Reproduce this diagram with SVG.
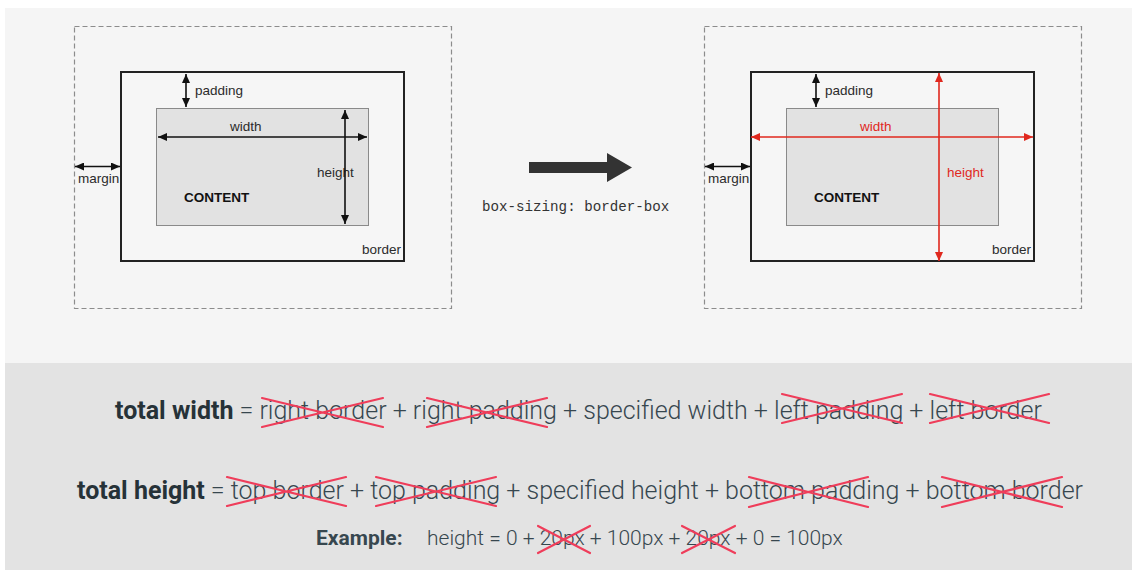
<svg xmlns="http://www.w3.org/2000/svg" width="1132" height="571" viewBox="0 0 1132 571">
  <style>
    .lbl { font-family: "Liberation Sans", Arial, sans-serif; font-size: 13.5px; fill: #2b2b2b; }
    .lbl-red { fill: #e0281e; }
    .content { font-family: "Liberation Sans", Arial, sans-serif; font-size: 13.5px; font-weight: bold; fill: #111; }
    .margin-box { fill: none; stroke: #8c8c8c; stroke-width: 1.2; stroke-dasharray: 5 3; }
    .border-box { fill: #f6f6f6; stroke: #222; stroke-width: 2; }
    .content-box { fill: #e2e2e2; stroke: #8a8a8a; stroke-width: 1; }
    .dim { stroke: #111; stroke-width: 1.6; fill: none; }
    .dim-red { stroke: #e0281e; stroke-width: 1.6; fill: none; }
    .code { font-family: "Liberation Mono", "DejaVu Sans Mono", monospace; font-size: 14.2px; fill: #333; }
    .formula { font-family: Roboto, "Noto Sans", sans-serif; font-size: 25px; font-weight: 300; fill: #37474f; }
    .formula .b { font-weight: bold; fill: #263238; }
    .example { font-family: Roboto, "Noto Sans", sans-serif; font-size: 21px; font-weight: 300; fill: #37474f; }
    .example .b { font-weight: bold; fill: #37474f; }
    .strike { stroke: #ef3d5a; stroke-width: 2.2; stroke-linecap: round; fill: none; }
  </style>
  <defs>
    <marker id="ah" markerUnits="userSpaceOnUse" markerWidth="10" markerHeight="8" refX="9" refY="4" orient="auto-start-reverse">
      <path d="M0,0 L9,4 L0,8 Z" fill="#111"/>
    </marker>
    <marker id="ah-red" markerUnits="userSpaceOnUse" markerWidth="10" markerHeight="8" refX="9" refY="4" orient="auto-start-reverse">
      <path d="M0,0 L9,4 L0,8 Z" fill="#e0281e"/>
    </marker>
  </defs>

  <!-- page backgrounds -->
  <rect x="0" y="0" width="1132" height="571" fill="#ffffff"/>
  <rect x="5" y="8" width="1127" height="355" fill="#f5f5f5"/>
  <rect x="5" y="363" width="1127" height="207" fill="#e3e3e3"/>

  <!-- box model: content-box -->
  <g id="box-content-box">
    <rect class="margin-box" x="74.5" y="26.5" width="377" height="282"/>
    <rect class="border-box" x="121" y="72" width="283" height="189"/>
    <rect class="content-box" x="156.5" y="108.5" width="212" height="117"/>
    <text class="content" x="184" y="202">CONTENT</text>
    <text class="lbl" x="195" y="95">padding</text>
    <text class="lbl" x="230" y="131">width</text>
    <text class="lbl" x="317" y="177">height</text>
    <text class="lbl" x="78" y="183">margin</text>
    <text class="lbl" x="362" y="254">border</text>
  </g>

  <!-- box model: border-box -->
  <g id="box-border-box">
    <rect class="margin-box" x="704.5" y="26.5" width="377" height="282"/>
    <rect class="border-box" x="751" y="72" width="283" height="189"/>
    <rect class="content-box" x="786.5" y="108.5" width="212" height="117"/>
    <text class="content" x="814" y="202">CONTENT</text>
    <text class="lbl" x="825" y="95">padding</text>
    <text class="lbl lbl-red" x="860" y="131">width</text>
    <text class="lbl lbl-red" x="947" y="177">height</text>
    <text class="lbl" x="708" y="183">margin</text>
    <text class="lbl" x="992" y="254">border</text>
  </g>

  <!-- transition arrow -->
  <g id="transition">
    <path d="M529,162 H607 V153 L632,167.5 L607,182 V173 H529 Z" fill="#333"/>
    <text class="code" x="482" y="211">box-sizing: border-box</text>
  </g>

  <!-- dimension arrows -->
  <g id="connectors">
    <line class="dim" x1="186" y1="74" x2="186" y2="107" marker-start="url(#ah)" marker-end="url(#ah)"/>
    <line class="dim" x1="158" y1="137" x2="367" y2="137" marker-start="url(#ah)" marker-end="url(#ah)"/>
    <line class="dim" x1="345" y1="110" x2="345" y2="224" marker-start="url(#ah)" marker-end="url(#ah)"/>
    <line class="dim" x1="75" y1="166.5" x2="120" y2="166.5" marker-start="url(#ah)" marker-end="url(#ah)"/>

    <line class="dim" x1="816" y1="74" x2="816" y2="107" marker-start="url(#ah)" marker-end="url(#ah)"/>
    <line class="dim" x1="705" y1="166.5" x2="750" y2="166.5" marker-start="url(#ah)" marker-end="url(#ah)"/>
    <line class="dim-red" x1="751" y1="137" x2="1033" y2="137" marker-start="url(#ah-red)" marker-end="url(#ah-red)"/>
    <line class="dim-red" x1="939" y1="73" x2="939" y2="261" marker-start="url(#ah-red)" marker-end="url(#ah-red)"/>
  </g>

  <!-- formulas -->
  <g id="formulas">
    <text class="formula" x="115" y="419"><tspan class="b">total width</tspan> = right border + right padding + specified width + left padding + left border</text>
    <text class="formula" x="77" y="499"><tspan class="b">total height</tspan> = top border + top padding + specified height + bottom padding + bottom border</text>
    <text class="example" x="316" y="545"><tspan class="b">Example:</tspan><tspan x="427">height = 0 + 20px + 100px + 20px + 0 = 100px</tspan></text>
  </g>

  <!-- strike-through crosses -->
  <g id="strikes">
    <path class="strike" d="M262,398 L383,427 M262,427 L383,398"/>
    <path class="strike" d="M427,398 L547,427 M427,427 L547,398"/>
    <path class="strike" d="M782,394 L902,423 M782,423 L902,394"/>
    <path class="strike" d="M930,394 L1049,423 M930,423 L1049,394"/>

    <path class="strike" d="M227,477 L346,506 M227,506 L346,477"/>
    <path class="strike" d="M376,477 L496,506 M376,506 L496,477"/>
    <path class="strike" d="M749,477 L868,507 M749,507 L868,477"/>
    <path class="strike" d="M942,477 L1062,507 M942,507 L1062,477"/>

    <path class="strike" d="M538,526 L590,553 M538,553 L590,526"/>
    <path class="strike" d="M682,526 L735,553 M682,553 L735,526"/>
  </g>
</svg>
